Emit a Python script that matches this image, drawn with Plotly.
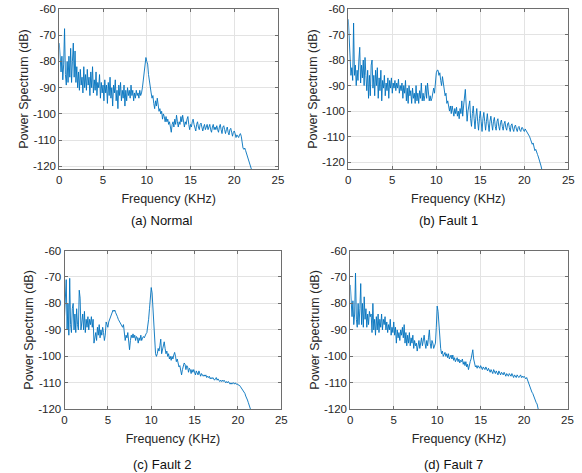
import plotly.graph_objects as go

# ---------------- data ----------------
FREQ_KHZ = [
    0.0, 0.1, 0.2, 0.3, 0.4, 0.5, 0.6, 0.7, 0.8, 0.9,
    1.0, 1.1, 1.2, 1.3, 1.4, 1.5, 1.6, 1.7, 1.8, 1.9,
    2.0, 2.1, 2.2, 2.3, 2.4, 2.5, 2.6, 2.7, 2.8, 2.9,
    3.0, 3.1, 3.2, 3.3, 3.4, 3.5, 3.6, 3.7, 3.8, 3.9,
    4.0, 4.1, 4.2, 4.3, 4.4, 4.5, 4.6, 4.7, 4.8, 4.9,
    5.0, 5.1, 5.2, 5.3, 5.4, 5.5, 5.6, 5.7, 5.8, 5.9,
    6.0, 6.1, 6.2, 6.3, 6.4, 6.5, 6.6, 6.7, 6.8, 6.9,
    7.0, 7.1, 7.2, 7.3, 7.4, 7.5, 7.6, 7.7, 7.8, 7.9,
    8.0, 8.1, 8.2, 8.3, 8.4, 8.5, 8.6, 8.7, 8.8, 8.9,
    9.0, 9.1, 9.2, 9.3, 9.4, 9.5, 9.6, 9.7, 9.8, 9.9,
    10.0, 10.1, 10.2, 10.3, 10.4, 10.5, 10.6, 10.7, 10.8, 10.9,
    11.0, 11.1, 11.2, 11.3, 11.4, 11.5, 11.6, 11.7, 11.8, 11.9,
    12.0, 12.1, 12.2, 12.3, 12.4, 12.5, 12.6, 12.7, 12.8, 12.9,
    13.0, 13.1, 13.2, 13.3, 13.4, 13.5, 13.6, 13.7, 13.8, 13.9,
    14.0, 14.1, 14.2, 14.3, 14.4, 14.5, 14.6, 14.7, 14.8, 14.9,
    15.0, 15.1, 15.2, 15.3, 15.4, 15.5, 15.6, 15.7, 15.8, 15.9,
    16.0, 16.1, 16.2, 16.3, 16.4, 16.5, 16.6, 16.7, 16.8, 16.9,
    17.0, 17.1, 17.2, 17.3, 17.4, 17.5, 17.6, 17.7, 17.8, 17.9,
    18.0, 18.1, 18.2, 18.3, 18.4, 18.5, 18.6, 18.7, 18.8, 18.9,
    19.0, 19.1, 19.2, 19.3, 19.4, 19.5, 19.6, 19.7, 19.8, 19.9,
    20.0, 20.1, 20.2, 20.3, 20.4, 20.5, 20.6, 20.7, 20.8, 20.9,
    21.0, 21.1, 21.2, 21.3, 21.4, 21.5, 21.6, 21.7, 21.8, 21.9,
    22.0,
]

NORMAL_DB = [
    -73, -79, -84, -78, -87, -81, -67.5, -85, -89, -80,
    -88, -78, -86, -75, -88, -80, -73, -86, -76, -88,
    -82, -90, -84, -91, -83, -89, -86, -92, -82, -90,
    -85, -91, -83, -89, -86, -93, -84, -90, -82, -92,
    -87, -91, -84, -93, -88, -90, -85, -94, -88, -92,
    -89, -95, -87, -92, -89, -96, -88, -93, -86, -94,
    -90, -97, -89, -92, -87, -95, -91, -98, -89, -93,
    -88, -95, -91, -94, -89, -97, -91, -95, -90, -93,
    -91, -94, -89, -93, -91, -95, -92, -94, -91, -93,
    -92, -94, -91, -93, -92, -90, -87, -83, -79, -78.5,
    -80, -81, -85, -88, -90, -92, -94, -93, -96, -98,
    -95, -97, -94, -96, -99, -98, -100, -99, -102, -100,
    -101, -103, -101, -103, -102, -104, -103, -105, -107, -104,
    -103, -105, -102, -104, -100.5, -103, -105, -103, -104, -101,
    -103, -100.5, -103, -105, -103, -104, -102, -101, -104, -106,
    -104, -105, -103, -102, -104, -106, -106.5, -104, -103, -105,
    -106, -104, -103.5, -105, -106.5, -105, -104, -106, -105, -104,
    -106, -105, -104, -106, -107, -105, -104, -106, -105, -106,
    -104.5, -106, -107, -105, -104, -106, -107.5, -105, -104.5, -106,
    -107.5, -106, -105, -107, -108, -106, -105.5, -107, -108.5, -107,
    -106.5, -107.5, -109, -108, -108.5, -109, -108, -107.5, -108.5, -111,
    -113, -113.5, -113, -114, -115, -116, -117, -118, -119, -120,
    -121.5,
]

FAULT1_DB = [
    -64, -72, -80, -86, -83, -88, -65.5, -86, -82, -90,
    -84, -88, -80, -75, -89, -82, -87, -80, -90, -79,
    -86, -92, -84, -95, -86, -94, -82, -80, -91, -86,
    -94, -84, -90, -83, -95, -87, -92, -84, -96, -88,
    -91, -86, -94, -89, -92, -87, -95, -88, -91, -87,
    -93, -89, -91, -88, -92, -89, -91, -87.5, -93, -90,
    -92, -89, -95, -90, -93, -88, -96, -91, -97, -90,
    -94, -92, -97, -91, -95, -93, -97, -90, -96, -93,
    -97, -92, -95, -89, -96, -93, -96, -94, -90, -95,
    -89, -93, -96, -94, -96, -95, -93, -91, -93, -88,
    -85, -84, -84, -86, -85, -88, -90, -86.5, -89, -92,
    -94, -93, -97, -96, -99, -100, -98, -101, -98, -100,
    -102, -99, -101, -98.5, -102, -100, -103, -99, -101, -96,
    -102, -98, -94, -91.5, -98, -104, -100, -97, -96, -103,
    -106, -101, -98, -103, -107, -102, -99, -104, -107.5, -103,
    -100, -104, -108, -103, -100.5, -104, -107.5, -104, -101, -105,
    -108, -104, -102, -105, -107.5, -104, -102.5, -106, -107.5, -104,
    -103, -106, -107.5, -104.5, -103.5, -106, -107.5, -105, -104, -106.5,
    -107.5, -105, -104.5, -106.5, -108, -105.5, -105, -107, -108, -106,
    -105.5, -107, -108, -106.5, -106, -107.5, -108, -106.5, -106.5, -107.5,
    -108, -107, -107.5, -108.5, -109, -109.5, -110, -111, -112, -113,
    -112.5, -114, -115.5, -115, -116.5, -117, -118, -119, -120, -121.5,
    -123,
]

FAULT2_DB = [
    -85, -75, -71, -90, -80, -92, -70.5, -88, -91, -82,
    -80, -90, -84, -91, -82, -88, -90, -75, -78, -90,
    -86, -84, -90, -83, -91, -86, -89, -85, -90, -86,
    -88, -85, -89, -86, -95, -93, -91, -94, -89, -92,
    -88, -93, -90, -92, -89, -91, -94, -92, -87, -88,
    -89, -87, -86, -85, -84, -83, -82.5, -83, -82.5, -83.5,
    -84, -85, -86, -86.5, -87, -87.5, -88, -89, -88, -91,
    -94, -92, -93, -91, -95, -97.5, -94, -92, -93, -91.5,
    -93, -92, -94, -92.5, -93, -95, -93, -94, -92, -94,
    -93, -92.5, -93, -92, -91.5, -91, -89, -86, -82, -77,
    -74, -76, -82, -89, -95, -99, -100, -99, -97, -98,
    -96, -93.5, -99, -97, -95, -94.5, -97, -99, -98, -100,
    -99, -101, -100, -101.5, -100, -101, -99.5, -98.5, -100, -102,
    -101, -103, -104, -103.5, -106, -107, -105, -104, -102.5, -103,
    -105, -103.5, -104, -106, -104.5, -105, -106.5, -105, -106, -105,
    -106.5, -107, -105.5, -106, -107, -105.5, -106.5, -107.5, -106.5, -107,
    -107.5, -107, -107.5, -107, -108, -107.5, -108, -107.5, -108.5, -108,
    -108.5, -108, -108.5, -109, -108.5, -108, -109, -108.5, -109, -109.5,
    -109, -109.5, -109, -109.5, -109, -109.5, -110, -109.5, -110, -109.5,
    -110, -110.5, -110, -110.5, -110, -110, -110.5, -110, -110.5, -110.5,
    -110.5, -111, -111, -111.5, -112, -112, -112.5, -113, -114, -115,
    -115.5, -116.5, -117.5, -118.5, -119.5, -120.5,
]

FAULT7_DB = [
    -73, -80, -85, -79, -88, -84, -68.5, -86, -89, -80,
    -88, -82, -72.5, -88, -80, -89, -77.5, -86, -82, -89,
    -84, -88, -83, -85, -84, -91, -80, -90, -86, -92,
    -85, -90, -84, -91, -86, -89, -84, -90, -86, -88,
    -85, -90, -87, -91, -88, -90, -86, -92, -89, -91,
    -87, -92, -89, -95, -90, -93, -91, -94, -90, -92,
    -89, -93, -88, -95, -91, -96, -92, -95, -91, -96,
    -93, -95, -92, -97, -94, -96, -95, -98, -96, -94,
    -97, -95, -93, -96, -94, -92, -95, -97, -94, -96,
    -93, -90, -95, -97, -94, -95, -97, -96, -95, -89,
    -81, -83, -89, -94, -97, -99, -98, -100, -99, -98.5,
    -100, -99, -100.5, -99, -101, -100, -99.5, -101, -99.5, -101.5,
    -100.5, -102, -101, -100.5, -102, -101, -102.5, -101.5, -102, -101,
    -103, -102, -103.5, -102, -104, -103, -105, -103, -102, -101,
    -99, -97.5, -101, -103.5, -104, -103.5, -104.5, -103.5, -104, -104.5,
    -103.5, -104, -105, -104, -104.5, -105, -104, -105, -105.5, -104.5,
    -105.5, -106, -105, -105.5, -106.5, -105, -105.5, -106.5, -105.5, -106,
    -107, -105.5, -106, -107, -106, -106.5, -107, -106, -106.5, -107.5,
    -106.5, -107, -107.5, -106.5, -107, -107.5, -106.5, -107, -108, -107,
    -107.5, -108, -107, -107.5, -108, -107.5, -107, -108, -107.5, -108,
    -107.5, -108, -108.5, -108, -109, -110, -111, -112, -112.5, -113.5,
    -114, -115, -116, -116.5, -117.5, -118, -119.5, -121,
]

PANEL_TITLES = ["(a) Normal", "(b) Fault 1", "(c) Fault 2", "(d) Fault 7"]
SERIES = [NORMAL_DB, FAULT1_DB, FAULT2_DB, FAULT7_DB]
X_TICKS = [0, 5, 10, 15, 20, 25]
X_TICK_LABELS = ["0", "5", "10", "15", "20", "25"]
Y_TICKS = [-120, -110, -100, -90, -80, -70, -60]
Y_TICK_LABELS = ["-120", "-110", "-100", "-90", "-80", "-70", "-60"]
Y_RANGES = [[-121, -60], [-122.7, -60], [-120, -60], [-120, -60]]

# ---------------- layout geometry ----------------
W, H = 582, 473
# plot areas in pixels: (left, right, top, bottom)
BOXES = [
    (59.3, 278.0, 9.0, 169.0),
    (348.3, 568.3, 9.0, 169.0),
    (64.5, 281.3, 250.5, 409.3),
    (350.3, 567.5, 250.5, 409.3),
]
CAPTIONS = [(162, 221), (448, 221), (162, 464), (453, 464)]

LINE_COLOR = "#0072BD"
FONT = "Liberation Sans, Arial, Helvetica, sans-serif"
TXT = "#262626"

fig = go.Figure()
for i, vals in enumerate(SERIES):
    sfx = "" if i == 0 else str(i + 1)
    fig.add_trace(go.Scatter(
        x=FREQ_KHZ[:len(vals)], y=vals, mode="lines",
        line=dict(color=LINE_COLOR, width=0.9),
        xaxis="x" + sfx, yaxis="y" + sfx, showlegend=False,
        hoverinfo="x+y",
    ))
    l, r, t, b = BOXES[i]
    ax_common = dict(
        showline=True, linecolor="#6e6e6e", linewidth=1, mirror="ticks",
        ticks="inside", ticklen=3, tickcolor="#6e6e6e", automargin=False,
        showgrid=True, gridcolor="#e3e3e3", gridwidth=1, zeroline=False,
        tickfont=dict(family=FONT, size=11.5, color=TXT),
        title_font=dict(family=FONT, size=12.5, color=TXT),
    )
    fig.layout["xaxis" + sfx] = dict(
        ax_common, domain=[l / W, r / W], anchor="y" + sfx,
        range=[0, 25], tickvals=X_TICKS, ticktext=X_TICK_LABELS,
        title=dict(text="Frequency (KHz)", standoff=9),
    )
    fig.layout["yaxis" + sfx] = dict(
        ax_common, domain=[1 - b / H, 1 - t / H], anchor="x" + sfx,
        range=Y_RANGES[i], tickvals=Y_TICKS, ticktext=Y_TICK_LABELS,
        title=dict(text="Power Spectrum (dB)", standoff=1),
    )
    cx, cy = CAPTIONS[i]
    fig.add_annotation(
        x=cx / W, y=1 - cy / H, xref="paper", yref="paper", text=PANEL_TITLES[i],
        showarrow=False, font=dict(family=FONT, size=13, color="#111111"),
        xanchor="center", yanchor="middle",
    )

fig.update_layout(
    width=W, height=H, margin=dict(l=0, r=0, t=0, b=0),
    paper_bgcolor="white", plot_bgcolor="white",
)
fig.write_html(
    "out.html",
    config={"displayModeBar": False},
    post_script="document.body.style.margin='0';document.body.style.padding='0';"
                "document.body.style.overflow='hidden';",
)
